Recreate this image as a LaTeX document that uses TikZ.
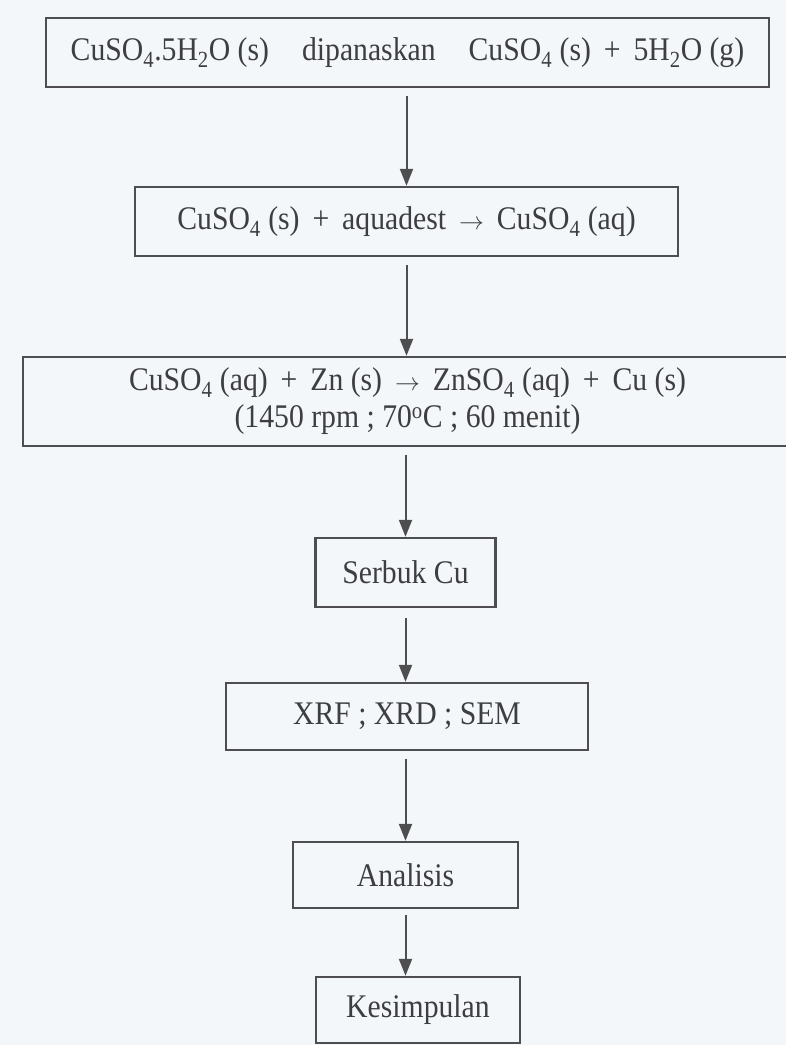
\documentclass[tikz,border=0pt]{standalone}
\usepackage{fontspec}
\setmainfont{Liberation Serif}[FakeStretch=0.9]
\usetikzlibrary{arrows.meta}
\definecolor{bg}{RGB}{244,247,250}
\definecolor{ink}{RGB}{62,62,64}
\definecolor{edge}{RGB}{78,78,80}
\tikzset{
  procbox/.style={draw=edge, line width=2.4pt, rectangle, inner sep=0pt, align=center,
    text=ink, font=\fontsize{33}{37}\selectfont},
  flowarrow/.style={draw=edge, line width=2pt, -{Triangle[width=13pt,length=17pt]}}
}
\newcommand{\sub}[1]{\textsubscript{#1}}
\begin{document}
\begin{tikzpicture}[x=1pt,y=-1pt]
\fill[bg] (0,0) rectangle (786,1045);
\useasboundingbox (0,0) rectangle (786,1045);
\clip (0,0) rectangle (786,1045);
\node[procbox, minimum width=723pt, minimum height=69pt] (b1) at (407.5,52.5)
  {CuSO\sub{4}.5H\sub{2}O (s)\quad dipanaskan\quad CuSO\sub{4} (s)\, +\, 5H\sub{2}O (g)};
\node[procbox, minimum width=543pt, minimum height=69pt] (b2) at (406.5,221.5)
  {CuSO\sub{4} (s)\, +\, aquadest\, $\rightarrow$\, CuSO\sub{4} (aq)};
\node[procbox, minimum width=769pt, minimum height=89pt] (b3) at (407.5,401.5)
  {CuSO\sub{4} (aq)\, +\, Zn (s)\, $\rightarrow$\, ZnSO\sub{4} (aq)\, +\, Cu (s)\\(1450 rpm ; 70\textsuperscript{o}C ; 60 menit)};
\node[procbox, minimum width=180pt, minimum height=69pt] (b4) at (405.5,572.5) {Serbuk Cu};
\node[procbox, minimum width=362pt, minimum height=67pt] (b5) at (407,716.5) {XRF ; XRD ; SEM};
\node[procbox, minimum width=225pt, minimum height=66pt] (b6) at (405.5,875) {Analisis};
\node[procbox, minimum width=204pt, minimum height=66pt] (b7) at (418,1010) {Kesimpulan};
\draw[flowarrow] ([yshift=-8pt]b1.south -| b2.north) -- (b2.north);
\draw[flowarrow] ([yshift=-8pt]b2.south) -- (b2.south |- b3.north);
\draw[flowarrow] ([yshift=-8pt]b3.south -| b4.north) -- (b4.north);
\draw[flowarrow] ([yshift=-10pt]b4.south) -- (b4.south |- b5.north);
\draw[flowarrow] ([yshift=-8pt]b5.south -| b6.north) -- (b6.north);
\draw[flowarrow] ([yshift=-6pt]b6.south) -- (b6.south |- b7.north);
\end{tikzpicture}
\end{document}
